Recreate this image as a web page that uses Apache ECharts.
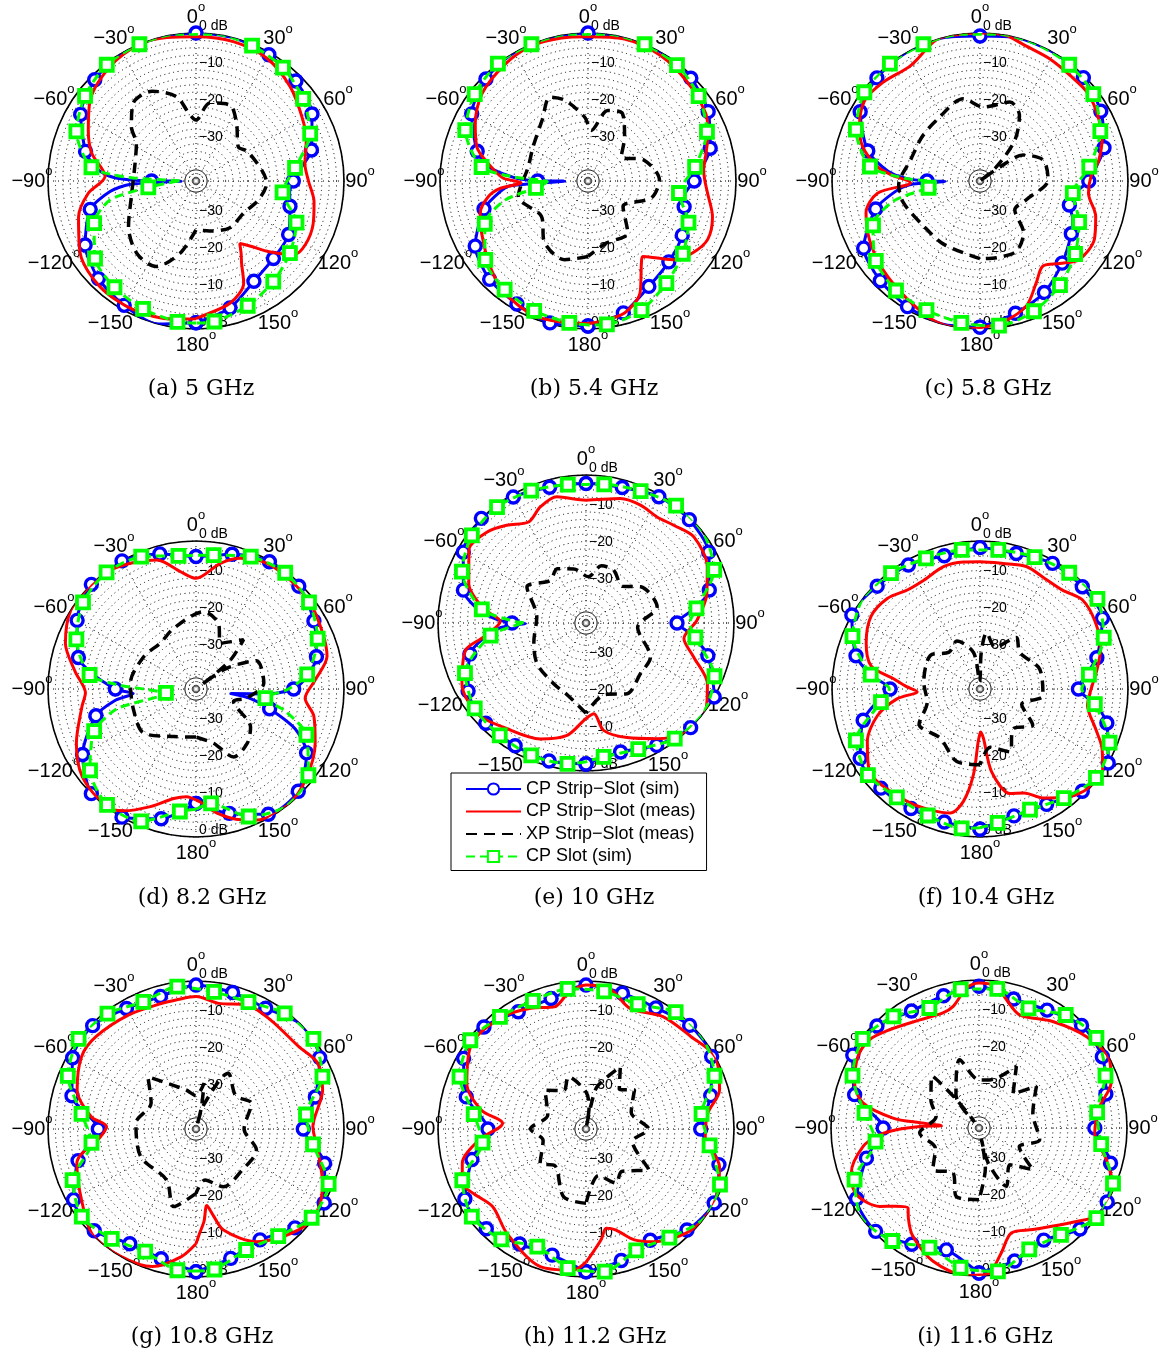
<!DOCTYPE html>
<html><head><meta charset="utf-8">
<script src="https://cdn.jsdelivr.net/npm/echarts@6/dist/echarts.min.js"></script>
<style>html,body{margin:0;background:#fff}#c{width:1163px;height:1354px}</style>
</head><body><div id="c"></div>
<script>
// ---------- data: [angle (deg, clockwise from top), level (dB)] ----------
const BLUE_A=[[-180,-1.7],[-165,0],[-150,-1.2],[-135,-2.7],[-120,-5.4],[-105,-10.4],[-97,-16.6],[-93,-22],[-90.5,-36],[-90,-28],[-88.5,-20],[-86,-15.5],[-82,-12.5],[-75,-9.1],[-60,-4],[-45,-1.3],[-30,0],[-15,0],[0,0],[15,0],[30,-0.6],[45,-1.8],[60,-3.8],[75,-7.7],[82,-11],[90,-13.7],[97,-14.5],[105,-13.7],[120,-11.1],[135,-10.4],[150,-8.7],[165,-4.5],[180,-1.7]];
const RED_A=[[-180,-2.8],[-170.7,-2.2],[-154,-1.3],[-137.7,-1.4],[-122,-3.1],[-107,-6.8],[-96.5,-10.7],[-87,-15.4],[-75,-10.8],[-64.7,-7.8],[-52.6,-4],[-37,-1.3],[-22,0],[-11.5,-0.4],[0,-1],[15,-1],[30,-1.7],[45,-4],[60,-6.7],[70,-8.3],[81,-10.2],[90,-9.6],[100,-7.6],[110,-6.3],[120,-5.8],[127,-6.9],[134,-12.5],[140,-17],[145,-19.4],[148,-17],[151,-14.6],[155,-9.5],[164.5,-5.7],[178,-3.3],[180,-2.8]];
const BLACK_A=[[-180,-26.8],[-167.5,-20],[-155,-14.5],[-141,-14.7],[-124,-18],[-101,-22.3],[-77,-23],[-58,-21],[-50,-17.2],[-39,-13],[-26,-13],[-13,-16.6],[-6,-21.6],[0,-23.5],[10,-18.6],[24,-17.5],[35,-20.9],[51,-25.3],[61,-23.8],[92,-20.9],[107,-22.4],[124,-24.5],[144,-24.4],[165,-26],[180,-26.8]];
const GREEN_A=[[-180,-1.6],[-172.5,-1.6],[-157.5,-2.6],[-142.5,-3.8],[-127.5,-5.6],[-112.5,-10.2],[-102.5,-16.2],[-97.5,-27],[-92,-34],[-90,-36],[-87,-22],[-82.5,-11.5],[-67.5,-5],[-52.5,-2.2],[-37.5,-0.4],[-22.5,0],[-7.5,0],[7.5,0],[22.5,-0.4],[37.5,-1.4],[52.5,-3.5],[67.5,-6.6],[82.5,-13],[97.5,-16.4],[112.5,-10.6],[127.5,-8],[142.5,-5.7],[157.5,-3.5],[172.5,-1.7],[180,-1.6]];

const BLUE_B=[[-180,-0.8],[-165,-0.3],[-150,-1.6],[-135,-2.4],[-120,-4.8],[-105,-10.9],[-97,-16],[-93.5,-19],[-90.5,-33.7],[-90,-26.4],[-88,-21],[-85.5,-17.5],[-82,-13],[-75,-9],[-60,-3.7],[-45,-1],[-30,0],[-15,0],[0,0],[15,0],[30,0],[45,-0.7],[60,-2.5],[75,-5.8],[82,-8.5],[90,-11.3],[97,-13.5],[105,-13.1],[120,-10.6],[135,-9.1],[150,-7.1],[165,-3.1],[180,-0.8]];
const RED_B=[[-180,-1.5],[-172,-1.3],[-158.5,-0.8],[-143.4,-2.3],[-131,-4.9],[-116,-8],[-106.6,-9.6],[-99,-12.7],[-95,-16],[-91.4,-21.9],[-88,-17],[-80,-12.6],[-73,-8.6],[-63,-5.8],[-50.6,-2.9],[-35.3,-1.3],[-22.6,-0.4],[-10.5,-0.7],[0,-1],[14.4,-0.4],[30,-0.8],[45,-2.1],[60,-3.3],[68.4,-5.1],[78,-7.5],[84.6,-8.6],[90,-8.4],[95.9,-7.5],[106,-5],[116,-4],[124.6,-5.7],[132.4,-8.4],[138,-12],[144,-14.8],[147,-13.5],[150,-11.3],[155,-6.7],[164.5,-3],[176,-1.8],[180,-1.5]];
const BLACK_B=[[-180,-19.6],[-163.5,-17.8],[-145,-19.6],[-127,-24.2],[-102.6,-20.7],[-76.6,-23.4],[-58,-22.5],[-37,-19.4],[-24.4,-15.1],[-16,-17.3],[-3,-22.7],[3.7,-26.3],[15.7,-20.2],[27,-19.5],[39.6,-24.5],[54,-28.9],[69.7,-23.8],[89,-20.7],[105,-22.3],[126,-28.3],[142.6,-22.3],[163.6,-22.5],[180,-19.6]];
const GREEN_B=[[-180,-1.1],[-172.5,-1.3],[-157.5,-2],[-142.5,-3],[-127.5,-5],[-112.5,-9.8],[-103,-17],[-97.5,-25.8],[-91,-29],[-87,-20],[-82.5,-11],[-67.5,-4.1],[-52.5,-1.4],[-37.5,0],[-22.5,0],[-7.5,0],[7.5,0],[22.5,0],[37.5,-0.5],[52.5,-2.3],[67.5,-5.2],[82.5,-10.8],[97.5,-15.2],[112.5,-10.6],[127.5,-7.7],[142.5,-5.2],[157.5,-2.2],[172.5,-0.9],[180,-1.1]];

const BLUE_C=[[-180,-0.5],[-165,0],[-150,-0.8],[-135,-1.9],[-120,-3.7],[-105,-10.8],[-97,-17],[-93,-21],[-90.5,-30.6],[-90,-25.7],[-88,-20],[-84,-15],[-75,-8.6],[-60,-2.6],[-45,-0.6],[-30,0],[-15,0],[0,-0.8],[15,0],[30,0],[45,-0.5],[60,-2.3],[75,-5.3],[82,-8],[90,-10.6],[97,-14],[105,-15],[112,-13],[120,-11.5],[135,-8.6],[150,-5.2],[165,-3],[180,-0.5]];
const RED_C=[[-180,-0.3],[-176,0],[-163,-0.1],[-148,-2.6],[-132,-4.5],[-117.8,-6.2],[-105.7,-8],[-96.8,-12.1],[-91.4,-21.2],[-86,-16],[-82,-12],[-73.8,-7],[-65.9,-4.3],[-55.2,-2],[-44.7,-2.6],[-31,-3.6],[-17,0],[-8,0],[0,0],[10,0],[17.5,-1.3],[30,-2],[41.8,-2.5],[50.5,-2.4],[58.8,-3.3],[70.2,-4.9],[80,-7.4],[87.8,-10],[96.4,-10.5],[107,-7.3],[117,-5.3],[128.3,-5.8],[136,-9],[143.5,-11.4],[151,-8.6],[159.6,-4],[170.7,-1.4],[180,-0.3]];
const BLACK_C=[[-180,-19],[-150,-20.3],[-129,-20.5],[-106,-18.5],[-92.8,-18],[-73,-20.4],[-52.8,-20.3],[-35.4,-19.8],[-11.4,-17.3],[2.6,-20],[20.7,-17.2],[31,-19.3],[40.5,-25.5],[49,-34],[52,-40],[55,-33],[59,-26.4],[71.7,-22],[89,-21.6],[112,-26.5],[129.6,-27.8],[140,-21.7],[152.6,-18.6],[167.8,-18.8],[180,-19]];
const GREEN_C=[[-180,-1],[-172.5,-1.3],[-157.5,-2.2],[-142.5,-2.7],[-127.5,-4.5],[-112.5,-8.7],[-103,-16],[-97.5,-26],[-92,-28],[-88,-20],[-82.5,-10],[-67.5,-3.7],[-52.5,-0.6],[-37.5,0],[-22.5,0],[-7.5,0],[7.5,0],[22.5,0],[37.5,-0.4],[52.5,-1.4],[67.5,-4.8],[82.5,-10.2],[97.5,-14.7],[112.5,-11],[127.5,-7.6],[142.5,-4.5],[157.5,-1.9],[172.5,-0.6],[180,-1]];

const BLUE_D=[[-180,-9.1],[-165,-3.7],[-150,0],[-135,0],[-120,-4.6],[-105,-12],[-98,-18],[-94,-23],[-91.5,-20],[-90,-18.2],[-82,-12],[-75,-7.1],[-60,-2.9],[-45,0],[-30,0],[-15,-2.2],[0,-4.2],[15,-2.3],[30,-0.3],[45,-0.7],[60,-3.2],[75,-6.3],[84,-10],[90,-13.6],[94,-21],[97.5,-30.5],[100,-25],[105,-19.4],[112,-11],[120,-5.5],[135,-0.9],[150,-0.9],[165,-5.2],[180,-9.1]];
const RED_D=[[-180,-10],[-175,-10.8],[-168.5,-9.8],[-158.8,-5.9],[-149.3,-1.7],[-143,0],[-127.6,-1.2],[-114.4,-4.5],[-98.8,-8.8],[-92,-10.1],[-81.8,-7],[-70.7,-2.6],[-57.8,0],[-46.8,0],[-35.8,-0.4],[-24.9,-2.1],[-16.8,-3.6],[-7.6,-8],[0,-10.1],[11,-5.4],[18.7,-2.7],[29.5,-1],[42.7,-1.1],[54.6,-1.5],[67.7,-2.7],[76,-3.5],[85.7,-7.7],[94.9,-10.4],[103,-7.3],[114.5,-4.6],[129.8,-1.5],[142,0],[155,-0.9],[161,-2.6],[170.4,-6],[178,-9.5],[180,-10]];
const BLACK_D=[[-180,-27],[-155,-25.8],[-130,-21.5],[-108.6,-22.2],[-85,-22.2],[-58,-23.4],[-38,-24.3],[-20,-22.5],[5.7,-19],[19,-21.3],[28,-26],[44,-21.5],[50,-28],[53,-38],[56,-30],[65,-22],[85,-21.6],[100,-26],[108.6,-29.3],[125,-22],[136.8,-19.8],[151,-19],[162,-24.6],[180,-27]];
const GREEN_D=[[-180,-7.5],[-172.5,-6.6],[-157.5,-1.3],[-142.5,-0.5],[-127.5,-3.9],[-112.5,-10.2],[-104,-18],[-97.5,-31.8],[-94,-30],[-90,-26],[-87,-19],[-82.5,-11],[-67.5,-5],[-52.5,-1.5],[-37.5,-0.3],[-22.5,-1.3],[-7.5,-3.7],[7.5,-3.5],[22.5,-1.3],[37.5,-0.4],[52.5,-1.5],[67.5,-4.4],[82.5,-9.7],[90,-15],[97.5,-21.1],[104,-15],[112.5,-7.7],[127.5,-1.7],[142.5,0],[157.5,-2.7],[172.5,-8.8],[180,-7.5]];

const BLUE_E=[[-180,-1.9],[-165,-1.4],[-150,-1.7],[-135,-1.7],[-120,-3.2],[-105,-7.5],[-97,-13],[-93,-17],[-90.5,-23.6],[-90,-20],[-87,-15],[-82,-10],[-75,-5.7],[-60,-1.7],[-45,0],[-30,-0.7],[-15,-2],[0,-2.3],[15,-2.1],[30,-0.6],[45,-0.5],[60,-1.7],[75,-5.5],[82,-10],[90,-15.4],[96,-11.5],[105,-5.9],[120,0],[135,0],[150,-1.8],[165,-3.9],[180,-1.9]];
const RED_E=[[-180,-14.2],[-178.6,-13.6],[-170.4,-9.2],[-158.5,-6.3],[-143,-4.3],[-129.8,-1.7],[-116,-2.7],[-102.8,-6.6],[-97.8,-12],[-89,-16.8],[-82,-12],[-71.5,-6.6],[-58,-2.7],[-47.4,-3.7],[-39,-6],[-29.6,-8.6],[-21.5,-6.3],[-13,-5],[0,-6.8],[15.4,-5.1],[24.8,-4.9],[33.8,-5.5],[41.9,-4.5],[51.4,-2.7],[65.2,-3.9],[76.4,-6.4],[88.6,-10],[99,-13.2],[107.5,-9.5],[116.6,-3.3],[125.8,0],[137.6,0],[148.5,-3.3],[160.3,-7.1],[170.7,-10.6],[175,-15.4],[180,-14.2]];
const BLACK_E=[[-180,-15.6],[-165,-20],[-152,-21.4],[-129.7,-22.8],[-110,-25],[-83,-26.6],[-58.6,-21.3],[-40,-25],[-28,-23.4],[-12.8,-25],[3,-27.5],[15,-24],[27.7,-23.9],[45,-26],[56.5,-22.3],[77.3,-20.3],[95,-26],[117.8,-20.3],[133,-19.9],[149.9,-17.9],[165,-20],[180,-15.6]];
const GREEN_E=[[-180,-2.5],[-172.5,-1.6],[-157.5,-1.3],[-142.5,-1.7],[-127.5,-2.1],[-112.5,-4.6],[-97.5,-14],[-91,-22],[-90,-23.6],[-89,-21],[-82.5,-11.6],[-67.5,-3.7],[-52.5,-1.1],[-37.5,-0.5],[-22.5,-1.3],[-7.5,-2.3],[7.5,-2.2],[22.5,-1.4],[37.5,0],[52.5,0],[67.5,-2.5],[82.5,-9.9],[90,-12],[97.5,-10.2],[112.5,-2.4],[127.5,0],[142.5,-0.6],[157.5,-3.1],[172.5,-3.5],[180,-2.5]];

const BLUE_F=[[-180,-2.1],[-165,-2.8],[-150,-2.7],[-135,-2.1],[-120,-2.6],[-105,-7.3],[-97,-12],[-90,-15.7],[-83,-10.5],[-75,-5.3],[-60,0],[-45,-0.7],[-30,-1.3],[-15,-2.7],[0,-1.8],[15,-2.1],[30,-0.8],[45,-0.9],[60,-1.8],[75,-7.3],[82,-11],[90,-13.4],[97,-9],[105,-4.5],[120,0],[135,-0.9],[150,-4],[165,-4.5],[180,-2.1]];
const RED_F=[[-180,-28],[-178,-25.7],[-175.6,-16.7],[-171.6,-9.3],[-166.5,-5.5],[-157.7,-4.7],[-148.7,-3.9],[-134,-2.8],[-126.7,-2.7],[-115,-6.4],[-104.5,-11.4],[-96.8,-17.4],[-92.4,-23],[-88,-20],[-83.4,-16.6],[-78,-9.9],[-67.9,-6.8],[-56.3,-4.6],[-45.5,-5],[-36.3,-6.8],[-27.3,-6.9],[-16.6,-5.5],[-7.4,-5.4],[0,-5.6],[10.4,-5.5],[20.7,-4.6],[29.2,-5.3],[39.8,-5.2],[48.9,-3.3],[60.3,-4],[71.8,-5.7],[80.4,-7.9],[90.9,-10.1],[98.7,-10.6],[108.9,-7],[116,-3.3],[124,0],[137.8,-1.4],[150,-6],[157,-9.5],[164,-10.6],[172,-17.4],[176,-26.6],[179,-28.4],[180,-28]];
const BLACK_F=[[-180,-19.5],[-162.3,-19.4],[-141,-22.9],[-120,-21],[-104,-25.3],[-83.3,-24.7],[-56,-23.8],[-40,-27],[-25.8,-25.6],[-10,-30],[-3,-38],[2,-30],[6.7,-24.7],[20,-28],[35,-23],[47.5,-25.4],[71.6,-23],[96,-22.9],[110,-28],[124.5,-22.7],[140,-26],[154.7,-21.2],[170,-24],[180,-19.5]];
const GREEN_F=[[-180,-2.5],[-172.5,-2],[-157.5,-3],[-142.5,-3.1],[-127.5,-1.8],[-112.5,-3.7],[-97.5,-13],[-90,-15.5],[-82.5,-10.2],[-67.5,-2.7],[-52.5,0],[-37.5,-0.5],[-22.5,-1.8],[-7.5,-2.1],[7.5,-2.1],[22.5,-1.4],[37.5,-0.4],[52.5,0],[67.5,-3.8],[82.5,-10.3],[90,-12.5],[97.5,-8.7],[112.5,-2.1],[127.5,-0.5],[142.5,-2.8],[157.5,-4.7],[172.5,-3.5],[180,-2.5]];

const BLUE_G=[[-180,-1.4],[-165,-3.7],[-150,-4.2],[-135,-1.1],[-120,-1.8],[-105,-7],[-90,-13.6],[-75,-5.3],[-60,-1.5],[-45,-0.5],[-30,-2.4],[-15,-2.9],[0,-1.1],[15,-1.8],[30,-2.3],[45,0],[60,-1.4],[75,-6.6],[90,-11],[105,-4],[120,0],[135,-2.2],[150,-5.4],[165,-3.8],[180,-1.4]];
const RED_G=[[-180,-9],[-173.3,-5.2],[-162.5,-1],[-149.4,0],[-135.8,0],[-121.8,-3.6],[-106,-6.5],[-94.6,-14.1],[-88.5,-15.8],[-83.3,-11.5],[-71.9,-6.2],[-57.7,-3.4],[-47.3,-3.2],[-30.5,-4.2],[-15.1,-4.8],[-8.8,-4.7],[0,-4.2],[10.2,-5.5],[22.3,-3.8],[34.3,-4.3],[51.3,-4.4],[61.6,-2.6],[72.9,-4.2],[88.9,-8.4],[99.8,-6.6],[113.2,-2.8],[123.6,-0.5],[134.5,-1.1],[151.8,-5.4],[164.8,-11.7],[169,-16.5],[172,-19.1],[175,-15],[178,-11.8],[180,-9]];
const BLACK_G=[[-180,-22.6],[-164,-18.2],[-150,-24.1],[-116.6,-23.3],[-84.6,-23.7],[-60,-26],[-42.7,-20.8],[-15,-29],[0,-31],[10,-27.4],[14,-34],[16,-39],[18,-33],[29.9,-22.6],[50,-26],[65.2,-23.5],[90,-27],[109.2,-22.7],[131.6,-23.3],[154.6,-22.7],[170,-26],[180,-22.6]];
const GREEN_G=[[-180,-1.6],[-172.5,-1.5],[-157.5,-4.1],[-142.5,-2.6],[-127.5,-1.1],[-112.5,-3.9],[-97.5,-11.5],[-82.5,-8.8],[-67.5,-2.5],[-52.5,0],[-37.5,-0.7],[-22.5,-2.8],[-7.5,-1.2],[7.5,-2.6],[22.5,-2.9],[37.5,-0.6],[52.5,0],[67.5,-3],[82.5,-10],[97.5,-8.1],[112.5,-1.2],[127.5,-0.6],[142.5,-3.5],[157.5,-4.6],[172.5,-1.7],[180,-1.6]];

const BLUE_H=[[-180,-1.4],[-165,-4.7],[-150,-4.1],[-135,-1.9],[-120,-2.2],[-105,-8.1],[-90,-13.5],[-75,-6.5],[-60,-1.8],[-45,-1],[-30,-3.4],[-15,-3.5],[0,-1.1],[15,-2],[30,-2.2],[45,-0.4],[60,-0.8],[75,-5.1],[90,-9],[105,-2.8],[120,0],[135,-1.4],[150,-5.3],[165,-3.2],[180,-1.4]];
const RED_H=[[-180,-4],[-174.8,-1.7],[-161.6,-0.8],[-142.9,-4.6],[-129.8,-7.2],[-120,-5],[-113.7,-3.5],[-105.5,-5.3],[-95.9,-10.9],[-86.1,-17.4],[-79.7,-11.2],[-69,-5.5],[-53.1,-1.4],[-36.7,-2.2],[-24.6,-4.1],[-14.5,-5.9],[-7.4,-3],[0,-1.1],[10.2,-1.8],[20,-5.3],[34.4,-3.2],[48.7,-2.2],[60.7,0],[73.7,-2.4],[82.6,-6.8],[93.7,-7.7],[105.8,-2.5],[120,0],[134.1,-0.6],[149.1,-4.5],[156.4,-7.3],[163.7,-11.6],[168.5,-12.6],[172,-10],[176,-7.2],[180,-4]];
const BLACK_H=[[-180,-19.9],[-161.8,-20.7],[-140,-27],[-126.8,-24.5],[-105,-28],[-90,-25],[-70,-29],[-46.6,-24.7],[-30,-28],[-18.6,-25.1],[0,-30],[8,-34],[10,-39],[12,-33],[15,-28],[28.9,-20.8],[40,-26],[51.2,-23.2],[70,-27],[90,-23.1],[105,-27],[123,-19.8],[140,-25],[151,-23.3],[165,-27],[180,-19.9]];
const GREEN_H=[[-180,-1.6],[-172.5,-2.1],[-157.5,-5.6],[-142.5,-2.4],[-127.5,-1.1],[-112.5,-3.8],[-97.5,-11.8],[-82.5,-9.4],[-67.5,-3],[-52.5,-0.6],[-37.5,-1.8],[-22.5,-2.5],[-7.5,-1.8],[7.5,-2.5],[22.5,-3.5],[37.5,-0.2],[52.5,0],[67.5,-2.4],[82.5,-8.5],[97.5,-6.3],[112.5,-0.8],[127.5,0],[142.5,-3],[157.5,-4.5],[172.5,-1.1],[180,-1.6]];

const BLUE_I=[[-180,-0.8],[-165,-5.9],[-150,-3.7],[-135,-0.5],[-120,-1.8],[-105,-8.5],[-90,-14.1],[-75,-5.2],[-60,-0.6],[-45,-1],[-30,-3.5],[-15,-3],[0,-1.7],[15,-3.9],[30,-3.2],[45,-0.8],[60,-1.5],[75,-4.5],[90,-8.7],[105,-3.2],[120,0],[135,-1.4],[150,-5],[165,-2.8],[180,-0.8]];
const RED_I=[[-180,-0.3],[-175,0],[-161,-1.9],[-148.6,-5.7],[-142,-9],[-138.4,-11.1],[-133,-9],[-128.3,-5.8],[-118.5,-2.3],[-109.4,-3.4],[-99,-8.3],[-94,-13],[-91.2,-17.7],[-88.5,-24],[-86.5,-29.8],[-85,-24],[-83.4,-16.6],[-77.8,-7.9],[-70,-4.2],[-59.4,-2],[-51,-2],[-42.3,-4.1],[-28.7,-6.7],[-17.4,-7.4],[-12,-6.4],[-5,-2],[0,-0.8],[7,-1.4],[12,-4.5],[19.7,-7.5],[34.7,-5],[49.5,-1.9],[62.4,-0.2],[71.2,-2.3],[79.8,-6.8],[92.5,-8.7],[104,-4.5],[113.5,-0.5],[125.7,0],[134.7,-3.9],[152,-8.9],[162.9,-10.3],[169.9,-5.7],[175.8,-0.7],[180,-0.3]];
const BLACK_I=[[-180,-20.6],[-161.6,-20.5],[-150,-26],[-132,-23.2],[-115,-27],[-94.8,-23.9],[-75,-28],[-60,-25],[-42,-21],[-38.5,-30],[-36.5,-38],[-34.5,-29],[-15.8,-20.8],[0,-27],[12.4,-26.7],[31.2,-20.5],[45,-27],[54,-20.8],[74.5,-24.9],[100.9,-23.3],[115,-28],[127.7,-21.5],[140,-27],[154.9,-22.6],[165,-30],[168,-37],[171,-29],[180,-20.6]];
const GREEN_I=[[-180,-1.4],[-172.5,-1.9],[-157.5,-5],[-142.5,-1.5],[-127.5,0],[-112.5,-3.6],[-97.5,-11.8],[-82.5,-8.8],[-67.5,-3],[-52.5,-0.4],[-37.5,-2],[-22.5,-4.9],[-7.5,-2.2],[7.5,-2.1],[22.5,-5],[37.5,-1.5],[52.5,0],[67.5,-3],[82.5,-7.8],[97.5,-6.7],[112.5,-0.8],[127.5,0],[142.5,-3.6],[157.5,-4.5],[172.5,-0.9],[180,-1.4]];

const CAPTIONS=['(a) 5 GHz','(b) 5.4 GHz','(c) 5.8 GHz','(d) 8.2 GHz','(e) 10 GHz','(f) 10.4 GHz','(g) 10.8 GHz','(h) 11.2 GHz','(i) 11.6 GHz'];
const SERIES_NAMES=['CP Strip\u2212Slot (sim)','CP Strip\u2212Slot (meas)','XP Strip\u2212Slot (meas)','CP Slot (sim)'];
const ANGLE_TICKS=[0,30,60,90,120,150,180,-150,-120,-90,-60,-30];
const RADIUS_MIN=-40, RADIUS_MAX=0, RING_STEP=2, LABEL_STEP=10;
const CENTER_RINGS=[-37,-39];

const PLOTS=[
 [BLUE_A,RED_A,BLACK_A,GREEN_A],[BLUE_B,RED_B,BLACK_B,GREEN_B],[BLUE_C,RED_C,BLACK_C,GREEN_C],
 [BLUE_D,RED_D,BLACK_D,GREEN_D],[BLUE_E,RED_E,BLACK_E,GREEN_E],[BLUE_F,RED_F,BLACK_F,GREEN_F],
 [BLUE_G,RED_G,BLACK_G,GREEN_G],[BLUE_H,RED_H,BLACK_H,GREEN_H],[BLUE_I,RED_I,BLACK_I,GREEN_I]];

// ---------- layout / style ----------
const LAYOUT=[[196,181],[588,181],[980,181],[196,689],[586,623],[980,689],[196,1129],[586,1129],[979,1128]];
const CAPTION_POS=[[201,390],[594,390],[988,390],[202,899],[594,899],[986,899],[202,1338],[595,1338],[985,1338]];
const R=148;
const SANS='Liberation Sans';
const ANG_FONT=20, SUP_FONT=13, SUP_RAISE=10, LABEL_RADIUS=164, ANG_MARGIN=-40;

const to360=a=>a<0?a+360:a;
const angleText=a=>a<0?'\u2212'+(-a):String(a);
const textWidth=t=>{let w=0;for(const ch of t)w+=(ch==='\u2212'?0.584:0.556)*ANG_FONT;return w;};

// per-tick rich styles so every angle label is centred on a circle of LABEL_RADIUS
const ANGLE_RICH={};
ANGLE_TICKS.forEach(a=>{
  const k=Math.round(to360(a)/30)%12;
  const th=a*Math.PI/180, s=Math.sin(th), c=Math.cos(th);
  const Rm=R+ANG_MARGIN, d=LABEL_RADIUS-Rm;
  const w=textWidth(angleText(a))+0.556*SUP_FONT;
  const hAl=Math.abs(s)*Rm/R<0.3?'center':(s>0?'left':'right');
  const vAl=Math.abs(c)*Rm/R<0.3?'middle':(c>0?'bottom':'top');
  let pl=0,pr=0,pt=7,pb=0;
  if(hAl==='left')pl=Math.max(0,d*Math.abs(s)-w/2);
  if(hAl==='right')pr=Math.max(0,d*Math.abs(s)-w/2);
  if(vAl==='bottom'){pb=Math.max(0,d*c-ANG_FONT/2);pt=7;}
  else if(vAl==='top'){pt=Math.max(7,d*Math.abs(c)-ANG_FONT/2);pb=0;}
  else{pt=7;pb=7;}
  const hn=pt+ANG_FONT+pb;
  const pts=pt+ANG_FONT/2-SUP_RAISE-SUP_FONT/2;
  const pbs=hn-SUP_FONT-pts;
  ANGLE_RICH['n'+k]={fontSize:ANG_FONT,fontFamily:SANS,color:'#000',padding:[pt,0,pb,pl]};
  ANGLE_RICH['s'+k]={fontSize:SUP_FONT,fontFamily:SANS,color:'#000',padding:[pts,pr,pbs,0]};
});
const fmtAngle=v=>{const k=Math.round(v/30)%12;let a=Math.round(v>180?v-360:v);return '{n'+k+'|'+angleText(a)+'}{s'+k+'|o}';};
const fmtRad=v=>v===0?'0 dB':((v%LABEL_STEP===0&&v>RADIUS_MIN)?'\u2212'+(-v):'');
const isMul=(a,step,off)=>{const k=(a-off)/step;return Math.abs(k-Math.round(k))<1e-6;};

const polar=[],angleAxis=[],radiusAxis=[],series=[],title=[];
PLOTS.forEach((p,i)=>{
  const [cx,cy]=LAYOUT[i];
  const pm=2*i, pl=2*i+1;
  polar.push({center:[cx,cy],radius:R});
  polar.push({center:[cx,cy],radius:R});
  angleAxis.push({polarIndex:pm,type:'value',min:0,max:360,interval:30,startAngle:90,clockwise:true,z:1,
    axisLine:{show:true,lineStyle:{color:'#000',width:1.6}},axisTick:{show:false},
    axisLabel:{show:true,margin:ANG_MARGIN,formatter:fmtAngle,rich:ANGLE_RICH},
    splitLine:{show:true,lineStyle:{color:'#000',width:1,type:[1,4]}}});
  radiusAxis.push({polarIndex:pm,type:'value',min:RADIUS_MIN,max:RADIUS_MAX,interval:RING_STEP,z:1,
    axisLine:{show:false},axisTick:{show:false},
    axisLabel:{show:true,formatter:fmtRad,fontSize:14,fontFamily:SANS,color:'#000',margin:-3,align:'left',verticalAlign:'bottom'},
    splitLine:{show:true,lineStyle:{color:'#000',width:1,type:[1,3.5]}}});
  angleAxis.push({polarIndex:pl,type:'value',min:0,max:360,interval:30,startAngle:270,clockwise:true,
    axisLine:{show:false},axisTick:{show:false},axisLabel:{show:false},splitLine:{show:false}});
  radiusAxis.push({polarIndex:pl,type:'value',min:RADIUS_MIN,max:RADIUS_MAX,interval:RING_STEP,z:1,
    axisLine:{show:false},axisTick:{show:false},
    axisLabel:{show:true,formatter:fmtRad,fontSize:14,fontFamily:SANS,color:'#000',margin:3,align:'left',verticalAlign:'bottom'},
    splitLine:{show:false}});

  CENTER_RINGS.forEach(lv=>{
    const d=[];for(let a=0;a<=360;a+=10)d.push([lv,a]);
    series.push({type:'line',coordinateSystem:'polar',polarIndex:pm,data:d,symbol:'none',smooth:true,silent:true,
      lineStyle:{color:'#000',width:1},z:1,tooltip:{show:false}});
  });

  const [blue,red,black,green]=p;
  series.push({name:SERIES_NAMES[0],type:'line',coordinateSystem:'polar',polarIndex:pm,smooth:0.25,
    symbol:'circle',symbolSize:12,showSymbol:true,silent:true,z:2,
    data:blue.map(([a,d])=>isMul(a,15,0)?{value:[d,to360(a)]}:{value:[d,to360(a)],symbol:'none'}),
    lineStyle:{color:'#0000ff',width:3},itemStyle:{color:'#ffffff',borderColor:'#0000ff',borderWidth:3.4}});
  series.push({name:SERIES_NAMES[1],type:'line',coordinateSystem:'polar',polarIndex:pm,smooth:0.3,
    symbol:'none',silent:true,z:3,data:red.map(([a,d])=>[d,to360(a)]),
    lineStyle:{color:'#ff0000',width:3},itemStyle:{color:'#ff0000'}});
  series.push({name:SERIES_NAMES[2],type:'line',coordinateSystem:'polar',polarIndex:pm,smooth:0.3,
    symbol:'none',silent:true,z:4,data:black.map(([a,d])=>[d,to360(a)]),
    lineStyle:{color:'#000000',width:3.5,type:[11,7]},itemStyle:{color:'#000'}});
  series.push({name:SERIES_NAMES[3],type:'line',coordinateSystem:'polar',polarIndex:pm,smooth:0.25,
    symbol:'rect',symbolSize:12,showSymbol:true,silent:true,z:5,
    data:green.map(([a,d])=>isMul(a,15,7.5)?{value:[d,to360(a)]}:{value:[d,to360(a)],symbol:'none'}),
    lineStyle:{color:'#00ff00',width:3,type:[9,5]},itemStyle:{color:'#ffffff',borderColor:'#00ff00',borderWidth:3.8}});

  title.push({text:CAPTIONS[i],left:CAPTION_POS[i][0],top:CAPTION_POS[i][1]-12,textAlign:'center',padding:0,
    textStyle:{fontFamily:'DejaVu Serif',fontSize:22,fontWeight:'normal',color:'#000'}});
});

const noMarker={color:'rgba(0,0,0,0)',borderWidth:0,borderColor:'rgba(0,0,0,0)'};
const chart=echarts.init(document.getElementById('c'),null,{renderer:'canvas'});
chart.setOption({
  animation:false,backgroundColor:'#fff',
  textStyle:{fontFamily:SANS},
  title,polar,angleAxis,radiusAxis,series,
  legend:{data:[{name:SERIES_NAMES[0]},{name:SERIES_NAMES[1],itemStyle:noMarker},{name:SERIES_NAMES[2],itemStyle:noMarker},{name:SERIES_NAMES[3]}],
    orient:'vertical',left:451,top:773,itemWidth:55,itemHeight:14,itemGap:4.5,
    backgroundColor:'#fff',borderColor:'#000',borderWidth:1,borderRadius:0,padding:[7,11,5,14],selectedMode:false,z:10,
    textStyle:{fontSize:18,fontFamily:SANS,color:'#000'}}
});
</script></body></html>
